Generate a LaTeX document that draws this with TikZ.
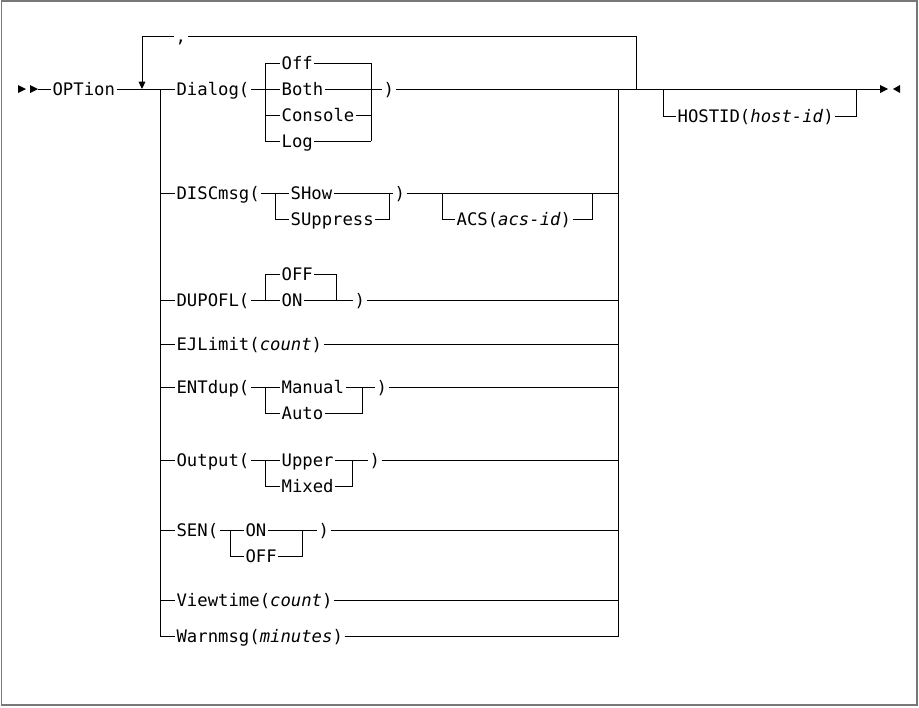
\documentclass[tikz,border=0pt]{standalone}
\usepackage{fontspec}
\newfontfamily\rrfont{DejaVu Sans Mono}
\usetikzlibrary{arrows.meta}
\begin{document}
\begin{tikzpicture}[x=0.75pt,y=-0.75pt,
  rail/.style={line width=0.75pt, draw=black},
  lbl/.style={font=\rrfont\fontsize{12.95pt}{15pt}\selectfont, inner xsep=1pt, inner ysep=0pt, text height=9.4pt, text depth=0pt, anchor=west},
  tipfill/.style={fill=black},
  framebox/.style={draw={rgb,255:red,120;green,120;blue,120}, line width=1.2pt}]
\useasboundingbox (0,0) rectangle (919,707);
\draw[framebox] (1.5,0.75) rectangle (917,705);

% ---------- start ----------
\coordinate (s0) at (38,89);
\fill[tipfill] (18,85) -- (26,89) -- (18,93) -- cycle;
\fill[tipfill] (30,85) -- (38,89) -- (30,93) -- cycle;
\node[lbl] (opt) at (51,89) {OPTion};
\draw[rail] (s0) -- (opt.west);
\coordinate (bT) at (160,89);
\coordinate (cT) at (618,89);
\coordinate (lpB) at (142,89);
\draw[rail] (opt.east) -- (bT);

% ---------- repeat loop ----------
\coordinate (lpT) at (142,36);
\node[lbl] (comma) at (174,36) {,};
\coordinate (lpR) at (636,36);
\coordinate (lpE) at (636,89);
\draw[rail] (lpE) -- (lpR) -- (comma.east);
\draw[rail,-{Triangle[length=5.5pt,width=5pt]}] (comma.west) -- (lpT) -- (lpB);

% ---------- Dialog ----------
\node[lbl] (dlg) at (175,89) {Dialog(};
\node[lbl] (doff) at (280,63) {Off};
\node[lbl] (dboth) at (280,89) {Both};
\node[lbl] (dcon) at (280,115) {Console};
\node[lbl] (dlog) at (280,141) {Log};
\node[lbl] (dclose) at (382,89) {)};
\coordinate (dL) at (265,89);
\coordinate (dR) at (371,89);
\draw[rail] (bT) -- (dlg.west);
\draw[rail] (dlg.east) -- (dboth.west);
\draw[rail] (dboth.east) -- (dclose.west);
\draw[rail] (dL |- doff.west) -- (dL |- dlog.west);
\draw[rail] (dR |- doff.east) -- (dR |- dlog.east);
\foreach \n in {doff,dcon,dlog}{
  \draw[rail] (dL |- \n.west) -- (\n.west);
  \draw[rail] (\n.east) -- (dR |- \n.east);
}
\coordinate (eE) at (880,89);
\draw[rail] (dclose.east) -- (eE);
\fill[tipfill] (880,85) -- (888,89) -- (880,93) -- cycle;
\fill[tipfill] (900,85) -- (893,89) -- (900,93) -- cycle;

% ---------- HOSTID ----------
\coordinate (hL) at (663,89);
\coordinate (hR) at (856,89);
\node[lbl] (host) at (676,116) {HOSTID(\textit{host-id})};
\draw[rail] (hL) |- (host.west);
\draw[rail] (host.east) -| (hR);

% ---------- DISCmsg ----------
\node[lbl] (disc) at (175,193) {DISCmsg(};
\node[lbl] (show) at (289,193) {SHow};
\node[lbl] (supp) at (289,219) {SUppress};
\node[lbl] (discc) at (393,193) {)};
\coordinate (sL) at (275,193);
\coordinate (sR) at (389,193);
\draw[rail] (bT |- disc.west) -- (disc.west);
\draw[rail] (disc.east) -- (show.west);
\draw[rail] (show.east) -- (discc.west);
\draw[rail] (sL) |- (supp.west);
\draw[rail] (supp.east) -| (sR);
\draw[rail] (discc.east) -- (cT |- discc.east);
\coordinate (aL) at (442,193);
\coordinate (aR) at (592,193);
\node[lbl] (acs) at (455,219) {ACS(\textit{acs-id})};
\draw[rail] (aL) |- (acs.west);
\draw[rail] (acs.east) -| (aR);

% ---------- DUPOFL ----------
\node[lbl] (dup) at (175,300) {DUPOFL(};
\node[lbl] (dupoff) at (280,274) {OFF};
\node[lbl] (dupon) at (280,300) {ON};
\node[lbl] (dupc) at (353,300) {)};
\coordinate (uL) at (265,300);
\coordinate (uR) at (336,300);
\draw[rail] (bT |- dup.west) -- (dup.west);
\draw[rail] (dup.east) -- (dupon.west);
\draw[rail] (dupon.east) -- (dupc.west);
\draw[rail] (dupc.east) -- (cT |- dupc.east);
\draw[rail] (uL) |- (dupoff.west);
\draw[rail] (dupoff.east) -| (uR);

% ---------- EJLimit ----------
\node[lbl] (ej) at (175,344) {EJLimit(\textit{count})};
\draw[rail] (bT |- ej.west) -- (ej.west);
\draw[rail] (ej.east) -- (cT |- ej.east);

% ---------- ENTdup ----------
\node[lbl] (ent) at (175,387) {ENTdup(};
\node[lbl] (entm) at (280,387) {Manual};
\node[lbl] (enta) at (280,413) {Auto};
\node[lbl] (entc) at (375,387) {)};
\coordinate (eL) at (265,387);
\coordinate (eR) at (362,387);
\draw[rail] (bT |- ent.west) -- (ent.west);
\draw[rail] (ent.east) -- (entm.west);
\draw[rail] (entm.east) -- (entc.west);
\draw[rail] (entc.east) -- (cT |- entc.east);
\draw[rail] (eL) |- (enta.west);
\draw[rail] (enta.east) -| (eR);

% ---------- Output ----------
\node[lbl] (out) at (175,460) {Output(};
\node[lbl] (outu) at (280,460) {Upper};
\node[lbl] (outm) at (280,486) {Mixed};
\node[lbl] (outc) at (368,460) {)};
\coordinate (oL) at (265,460);
\coordinate (oR) at (352,460);
\draw[rail] (bT |- out.west) -- (out.west);
\draw[rail] (out.east) -- (outu.west);
\draw[rail] (outu.east) -- (outc.west);
\draw[rail] (outc.east) -- (cT |- outc.east);
\draw[rail] (oL) |- (outm.west);
\draw[rail] (outm.east) -| (oR);

% ---------- SEN ----------
\node[lbl] (sen) at (175,530) {SEN(};
\node[lbl] (senon) at (244,530) {ON};
\node[lbl] (senoff) at (244,556) {OFF};
\node[lbl] (senc) at (317,530) {)};
\coordinate (nL) at (230,530);
\coordinate (nR) at (302,530);
\draw[rail] (bT |- sen.west) -- (sen.west);
\draw[rail] (sen.east) -- (senon.west);
\draw[rail] (senon.east) -- (senc.west);
\draw[rail] (senc.east) -- (cT |- senc.east);
\draw[rail] (nL) |- (senoff.west);
\draw[rail] (senoff.east) -| (nR);

% ---------- Viewtime ----------
\node[lbl] (vt) at (175,600) {Viewtime(\textit{count})};
\draw[rail] (bT |- vt.west) -- (vt.west);
\draw[rail] (vt.east) -- (cT |- vt.east);

% ---------- Warnmsg ----------
\node[lbl] (wm) at (175,636) {Warnmsg(\textit{minutes})};
\draw[rail] (bT) -- (bT |- wm.west) -- (wm.west);
\draw[rail] (wm.east) -- (cT |- wm.east) -- (cT);
\end{tikzpicture}
\end{document}
